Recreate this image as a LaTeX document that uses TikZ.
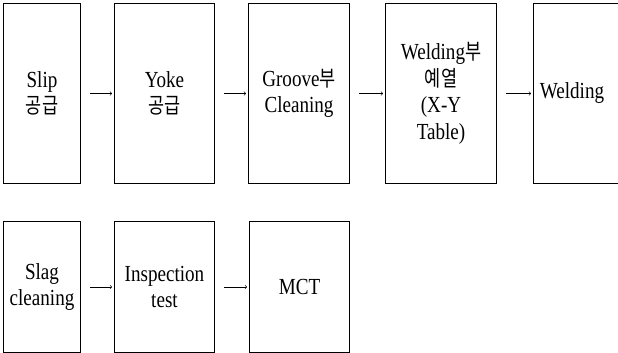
\documentclass[tikz,border=0pt]{standalone}
\usepackage{fontspec}
\setmainfont[FakeStretch=0.83]{Liberation Serif}
\newfontfamily\kr[Scale=0.95, FakeStretch=0.8]{Noto Sans CJK KR}
\usetikzlibrary{positioning}
\begin{document}
\begin{tikzpicture}[->, x = 1pt, y = 1pt, thick]
        \tikzset{
            block/.style  = {draw, line width = 1pt, rectangle, align = center, inner sep = 0pt,
                             font = \fontsize{23}{26.5}\selectfont},
            tall/.style   = {block, minimum height = 180pt},
            short/.style  = {block, minimum height = 131pt},
            flow/.style   = {->, line width = 0.6pt, shorten <= 9pt, shorten >= 2pt}
        }
        \useasboundingbox (0, 0) rectangle (618, -353);

        % first row
        \node[tall, minimum width = 77pt, anchor = north west] (SLIP) at (3, -3) {Slip\\{\kr 공급}};
        \node[tall, minimum width = 100pt, right = 33pt of SLIP] (YOKE) {Yoke\\{\kr 공급}};
        \node[tall, minimum width = 101pt, right = 33pt of YOKE] (GROOVE) {Groove{\kr 부}\\Cleaning};
        \node[tall, minimum width = 111pt, right = 35pt of GROOVE] (HEAT) {Welding{\kr 부}\\{\kr 예열}\\(X-Y\\Table)};
        \node[tall, minimum width = 91pt, right = 36pt of HEAT] (WELD) {\hspace*{-14pt}Welding};

        % second row
        \node[short, minimum width = 77pt, anchor = north west] (SLAG) at (3, -221) {Slag\\cleaning};
        \node[short, minimum width = 100pt, right = 33pt of SLAG] (INSP) {Inspection\\test};
        \node[short, minimum width = 100pt, right = 34pt of INSP] (MCT) {MCT};

        \draw[flow] (SLIP) to (YOKE);
        \draw[flow] (YOKE) to (GROOVE);
        \draw[flow] (GROOVE) to (HEAT);
        \draw[flow] (HEAT) to (WELD);
        \draw[flow] (SLAG) to (INSP);
        \draw[flow] (INSP) to (MCT);
    \end{tikzpicture}
\end{document}
